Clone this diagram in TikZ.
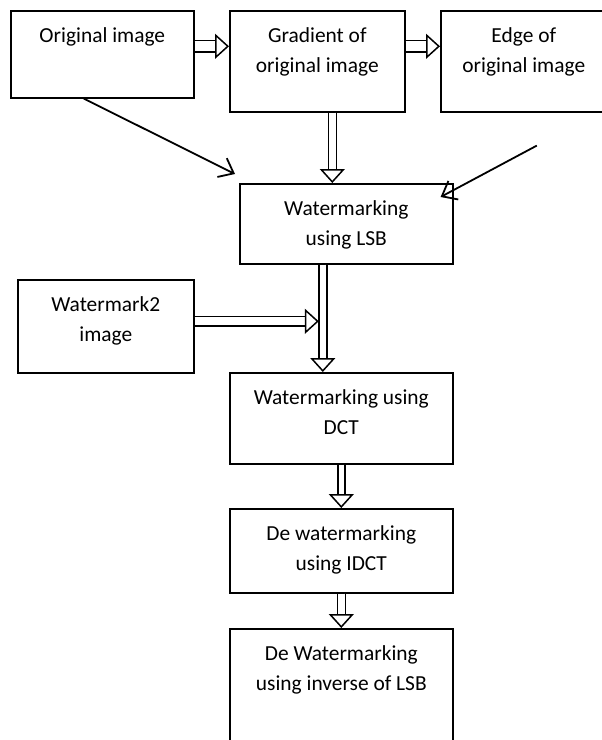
\documentclass[tikz,border=0pt]{standalone}
\usepackage{fontspec}
\setmainfont{Carlito}
\usetikzlibrary{arrows.meta}
\newcommand{\boxtext}[3]{\parbox[t][#2bp][t]{#1bp}{\centering\rule{0pt}{32bp}#3\par}}

\begin{document}
\begin{tikzpicture}[x=1bp, y=-1bp,
  box/.style={draw, line width=1.6bp, inner sep=0pt, anchor=north west, font=\fontsize{21.5}{29.5}\selectfont},
  hollow/.style={double, line width=1.5bp, double distance=#1, -{Triangle[fill=white, line width=1.5bp, length=14bp, width=25bp]}},
  link/.style={line width=1.8bp, -{Straight Barb[length=13bp, width=21bp]}}]
\useasboundingbox (0,0) rectangle (602,740);

\node[box] (orig) at (10,10) {\boxtext{183}{87}{Original image}};
\node[box] (grad) at (229,10) {\boxtext{175}{101}{Gradient of\\original image}};
\node[box] (edge) at (440,10) {\boxtext{166}{101}{Edge of\\original image}};
\node[box] (lsb) at (239,183) {\boxtext{213}{80}{Watermarking\\using LSB}};
\node[box] (wm2) at (17,279) {\boxtext{176}{93}{Watermark2\\image}};
\node[box] (dct) at (229,372) {\boxtext{223}{91}{Watermarking using\\DCT}};
\node[box] (idct) at (229,508) {\boxtext{223}{84}{De watermarking\\using IDCT}};
\node[box] (inv) at (229,628) {\boxtext{223}{117}{De Watermarking\\using inverse of LSB}};

\coordinate (edgeout) at ([shift={(13bp,-33bp)}]edge.south);
\coordinate (join) at ([xshift=-27.5bp]lsb.south);

\draw[hollow=10bp] ([yshift=8bp]orig.east) -- ([yshift=8bp]orig.east -| grad.west);
\draw[hollow=10bp] ([yshift=15bp]grad.east) -- ([yshift=15bp]grad.east -| edge.west);
\draw[hollow=6.5bp] ([xshift=15bp]grad.south) -- ([xshift=15bp]grad.south |- lsb.north);
\draw[link] ([xshift=-18.5bp]orig.south) -- ([shift={(-4bp,9bp)}]lsb.north west);
\draw[link] (edgeout) -- ([shift={(-13bp,-14bp)}]lsb.north east);
\draw[hollow=8bp] ([yshift=5bp]wm2.east) -- ([yshift=5bp]wm2.east -| join);
\draw[hollow=6.5bp] ([xshift=-23.5bp]lsb.south) -- ([xshift=-23.5bp]lsb.south |- dct.north);
\draw[hollow=5.5bp] (dct.south) -- (idct.north);
\draw[hollow=6.5bp] (idct.south) -- (inv.north);
\end{tikzpicture}
\end{document}
